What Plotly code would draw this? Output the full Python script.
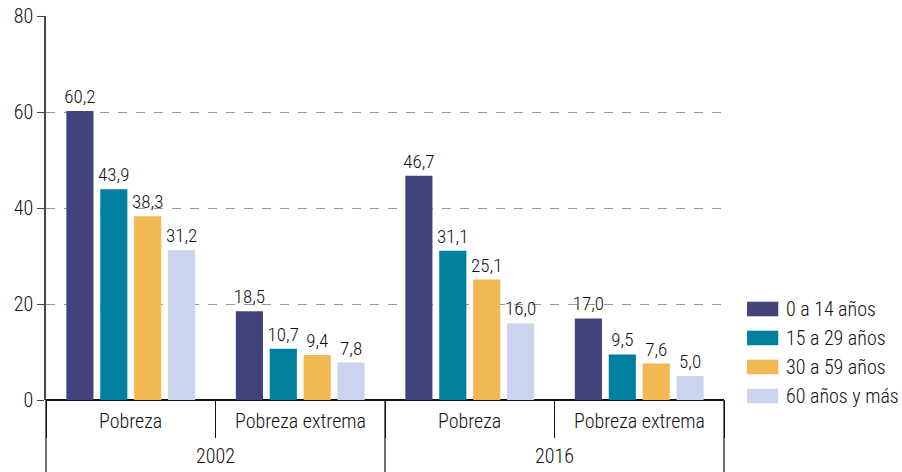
import plotly.graph_objects as go

years = ["2002", "2002", "2016", "2016"]
groups = ["Pobreza", "Pobreza extrema", "Pobreza", "Pobreza extrema"]
year_labels = ["2002", "2016"]
series_names = ["0 a 14 años", "15 a 29 años", "30 a 59 años", "60 años y más"]
values = [
    [60.2, 18.5, 46.7, 17.0],
    [43.9, 10.7, 31.1, 9.5],
    [38.3, 9.4, 25.1, 7.6],
    [31.2, 7.8, 16.0, 5.0],
]
colors = ["#41437a", "#007f9e", "#f2b851", "#cbd4ec"]
y_ticks = [0, 20, 40, 60, 80]

FONT = "Roboto Condensed, Roboto, sans-serif"
TXT = "#111111"
def f(size, weight=350):
    return dict(size=size, color=TXT, family=FONT, weight=weight)

fig = go.Figure()
for name, vals, col in zip(series_names, values, colors):
    fig.add_trace(go.Bar(
        x=[years, groups], y=vals, name=name,
        marker=dict(color=col, line=dict(width=0)),
        texttemplate="%{y:.1f}", textposition="outside",
        textfont=f(19), constraintext="none",
        cliponaxis=False, showlegend=False,
    ))

shapes = []
annotations = []

# custom legend
for i, (name, col) in enumerate(zip(series_names, colors)):
    yc = 0.237 - i * 0.0755
    shapes.append(dict(type="rect", xref="paper", yref="paper",
                       x0=1.034, x1=1.080, y0=yc - 0.019, y1=yc + 0.019,
                       fillcolor=col, line=dict(width=0)))
    annotations.append(dict(xref="paper", yref="paper", x=1.089, y=yc,
                            text=name, showarrow=False, xanchor="left",
                            yanchor="middle", font=f(20)))

# two-level category labels and dividers
n = len(groups)
for i, g in enumerate(groups):
    annotations.append(dict(xref="paper", yref="paper", x=(i + 0.5) / n,
                            y=-0.0547, text=g, showarrow=False,
                            xanchor="center", yanchor="middle", font=f(20)))
per = n // len(year_labels)
for j, yl in enumerate(year_labels):
    annotations.append(dict(xref="paper", yref="paper",
                            x=(j * per + per / 2) / n, y=-0.1458, text=yl,
                            showarrow=False, xanchor="center",
                            yanchor="middle", font=f(20)))
for j in range(len(year_labels) + 1):
    shapes.append(dict(type="line", xref="paper", yref="paper",
                       x0=j * per / n, x1=j * per / n, y0=0, y1=-0.19,
                       line=dict(color="#111111", width=1.2)))

fig.update_layout(
    width=902, height=472,
    margin=dict(l=46, r=178, t=16, b=72, autoexpand=False),
    paper_bgcolor="white", plot_bgcolor="white",
    separators=",.",
    bargap=0.2, bargroupgap=0.2,
    font=f(20),
    shapes=shapes, annotations=annotations,
    showlegend=False,
)
fig.update_yaxes(
    range=[0, 80], tickvals=y_ticks, showgrid=True, gridcolor="#999999",
    griddash="dash", gridwidth=1, showline=True, linecolor="#444444",
    linewidth=1.5, ticks="outside", ticklen=7, tickcolor="#444444",
    zeroline=True, zerolinecolor="#111111", zerolinewidth=2,
    tickfont=f(20), automargin=False, ticklabelstandoff=0,
)
fig.update_xaxes(
    type="multicategory", tickson="boundaries", ticks="outside", ticklen=37,
    tickcolor="#111111", tickwidth=1.2, showdividers=False,
    showticklabels=False, showline=False, automargin=False,
)
fig.write_html("out.html", config={"displayModeBar": False},
               post_script="document.body.style.margin='0';")
